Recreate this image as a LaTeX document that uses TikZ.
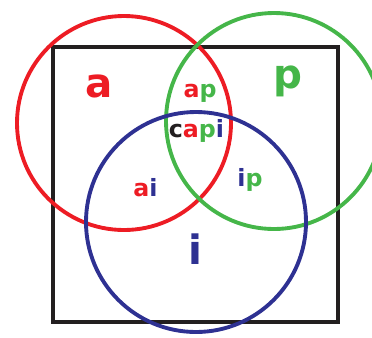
\documentclass[tikz,border=0pt]{standalone}
\usepackage{fontspec}
\setmainfont{DejaVu Sans}
\usepackage{tikz}
\usetikzlibrary{positioning}
\usepackage{xcolor}
\definecolor{setred}{HTML}{ED1C24}
\definecolor{setgreen}{HTML}{45B649}
\definecolor{setblue}{HTML}{2E3192}
\definecolor{ink}{HTML}{231F20}

\begin{document}
\begin{tikzpicture}[line width=2.2pt,
    biglabel/.style={anchor=base, inner sep=0pt, font=\fontsize{23}{23}\selectfont\bfseries},
    smalllabel/.style={anchor=base, inner sep=0pt, font=\fontsize{13.5}{13.5}\selectfont\bfseries}]
        \useasboundingbox (0,0) rectangle (7.44,-6.74);
        % universe and the three sets
        \draw[ink] (1.06,-0.94) rectangle (6.76,-6.44);
        \draw[setred] (2.48,-2.46) circle[radius=2.14];
        \draw[setgreen] (5.48,-2.42) circle[radius=2.16];
        \draw[setblue] (3.92,-4.44) circle[radius=2.2];
        % region labels
        \node[biglabel, text=setred] (la) at (1.98,-1.94) {a};
        \node[biglabel, text=setgreen] (lp) at (5.76,-1.76) {p};
        \node[biglabel, text=setblue] (li) at (3.91,-5.28) {i};
        \node[smalllabel] (lap) at (4.0,-1.94) {\color{setred}a\color{setgreen}p};
        \node[smalllabel] (lcapi) at (3.93,-2.74) {\color{ink}c\color{setred}a\color{setgreen}p\color{setblue}i};
        \node[smalllabel] (lai) at (2.91,-3.93) {\color{setred}a\color{setblue}i};
        \node[smalllabel] (lip) at (5.0,-3.72) {\color{setblue}i\color{setgreen}p};
      \end{tikzpicture}
\end{document}
